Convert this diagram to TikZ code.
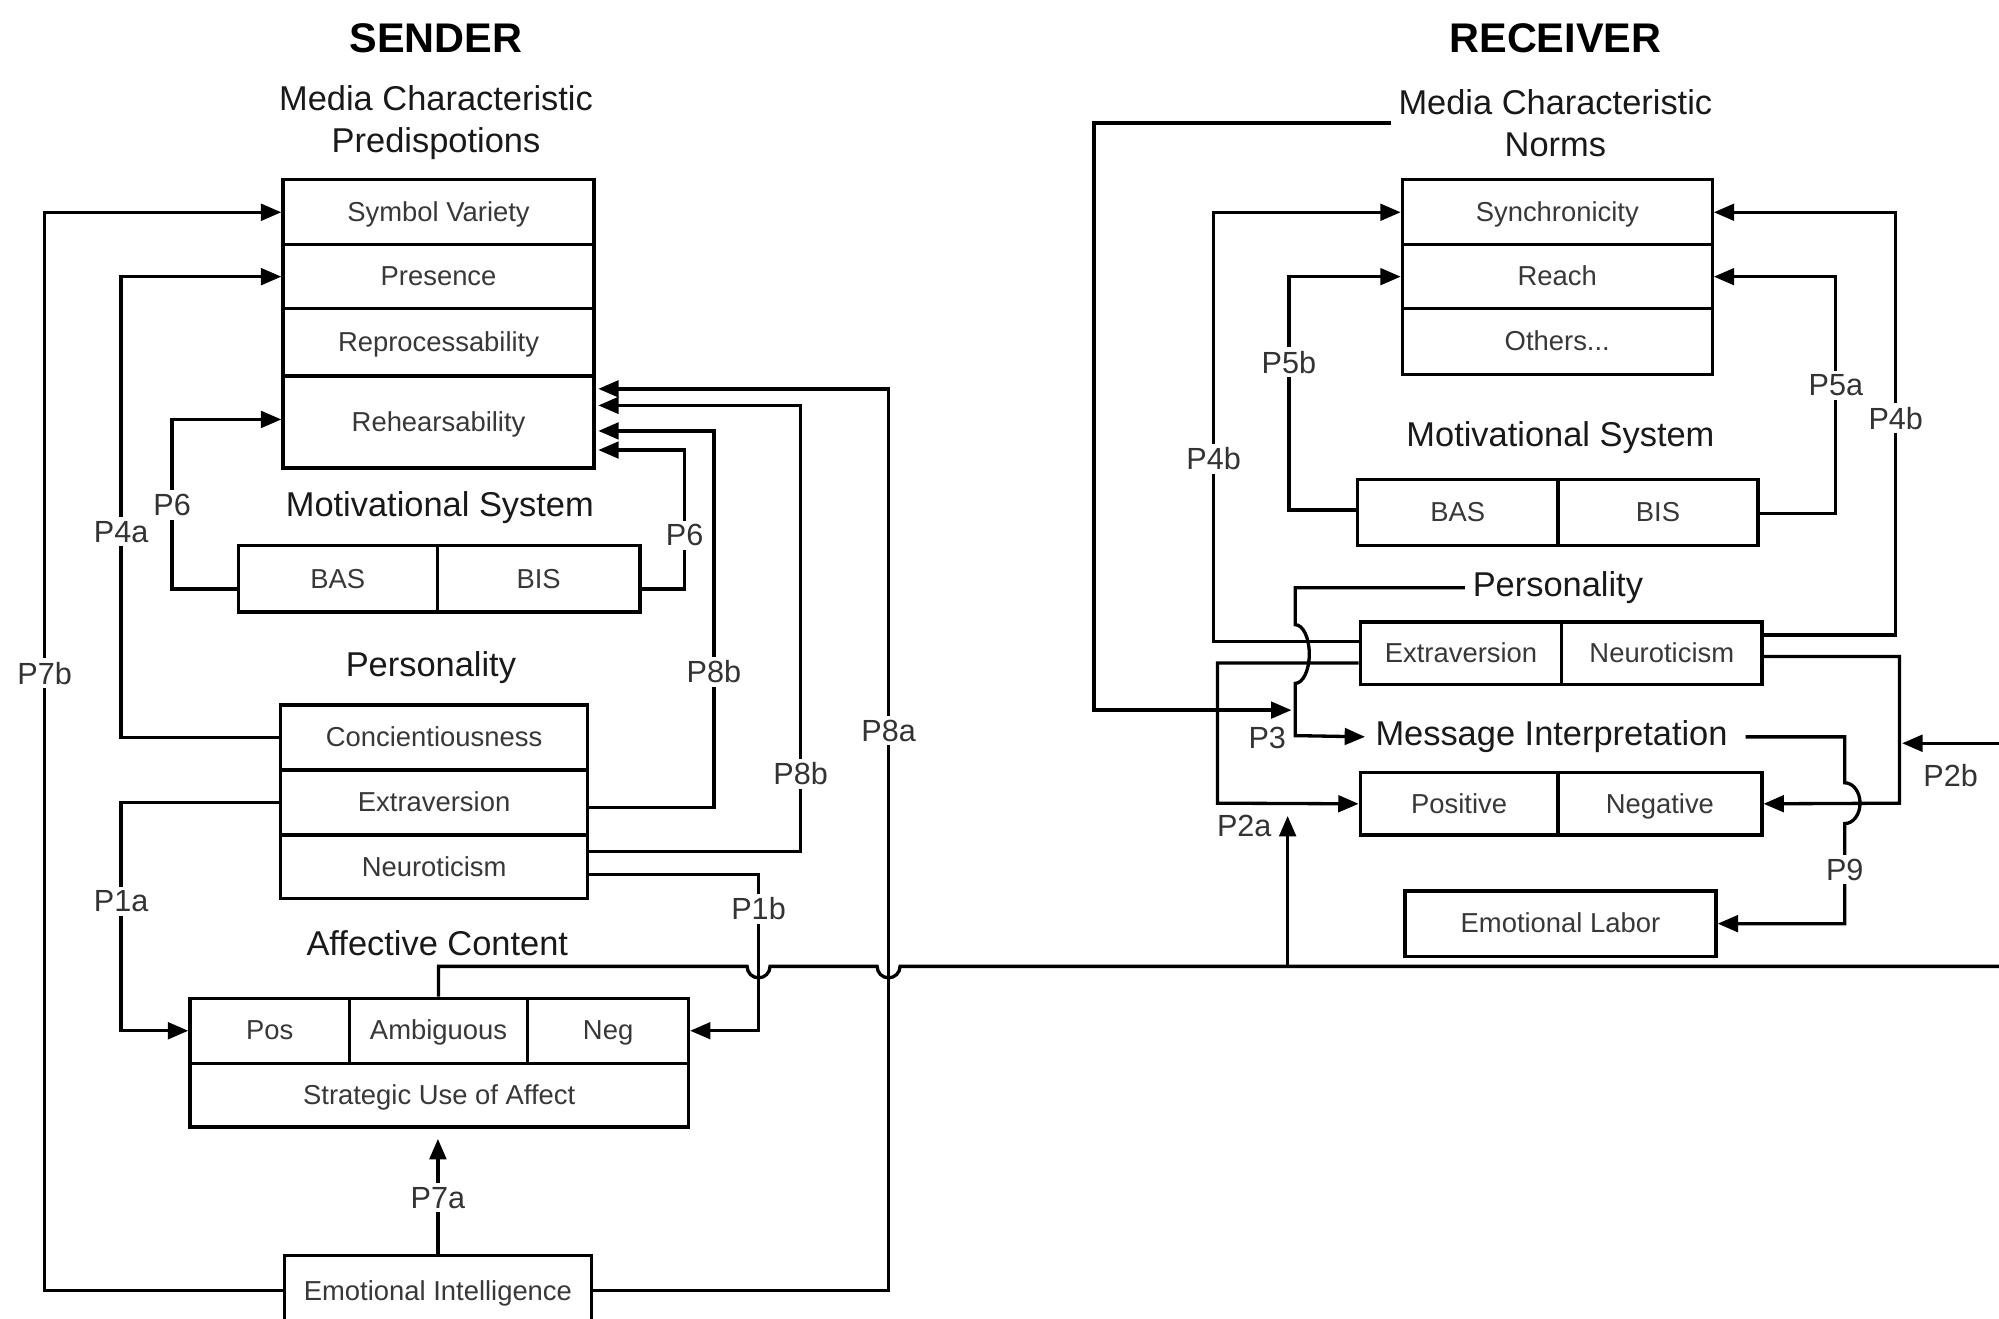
\documentclass[tikz,border=0pt]{standalone}
\usepackage{fontspec}
\setmainfont{Liberation Sans}
\usetikzlibrary{arrows.meta}
\begin{document}
\begin{tikzpicture}[x=1pt,y=-1pt,
  cell/.style={draw, line width=2.6pt, inner sep=0pt, text height=16pt, text depth=1.5pt, text=black!78, font=\fontsize{21.5}{24}\selectfont},
  head/.style={inner sep=6pt, font=\fontsize{27}{33}\selectfont, align=center, text=black!90},
  title/.style={font=\fontsize{32.5}{36}\selectfont\bfseries},
  lbl/.style={fill=white, inner sep=3pt, text=black!80, font=\fontsize{24}{26}\selectfont},
  conn/.style={line width=2.6pt},
  arr/.style={conn, -{Triangle[length=16pt,width=13pt]}},
]
\fill[white] (0,0) rectangle (1568,1034);
\useasboundingbox (0,0) rectangle (1568,1034);

% ---------------- SENDER ----------------
\node[title] (sender) at (342,30) {SENDER};
\node[head] (smedia) at (342,96.5) {Media Characteristic\\Predispotions};
\node[cell, minimum width=244pt, minimum height=51pt] (symvar) at (344,166.5) {Symbol Variety};
\node[cell, minimum width=244pt, minimum height=50pt] (presence) at (344,217) {Presence};
\node[cell, minimum width=244pt, minimum height=53pt] (reproc) at (344,268.5) {Reprocessability};
\node[cell, minimum width=244pt, minimum height=72pt] (rehe) at (344,331) {Rehearsability};

\node[head] (smot) at (345,398) {Motivational System};
\node[cell, minimum width=156pt, minimum height=52pt] (bas) at (265,454) {BAS};
\node[cell, minimum width=159pt, minimum height=52pt] (bis) at (422.5,454) {BIS};

\node[head] (spers) at (338,524) {Personality};
\node[cell, minimum width=241pt, minimum height=51pt] (consc) at (340.5,578.5) {Concientiousness};
\node[cell, minimum width=241pt, minimum height=51pt] (extra) at (340.5,629.5) {Extraversion};
\node[cell, minimum width=241pt, minimum height=50pt] (neuro) at (340.5,680) {Neuroticism};

\node[head] (saff) at (343,740) {Affective Content};
\node[cell, minimum width=125pt, minimum height=51pt] (pos) at (211.5,808.5) {Pos};
\node[cell, minimum width=140pt, minimum height=51pt] (amb) at (344,808.5) {Ambiguous};
\node[cell, minimum width=126pt, minimum height=51pt] (neg) at (477,808.5) {Neg};
\node[cell, minimum width=391pt, minimum height=50pt] (strat) at (344.5,859) {Strategic Use of Affect};

\node[cell, minimum width=241pt, minimum height=55pt] (ei) at (343.5,1012.5) {Emotional Intelligence};

% sender connectors
\draw[arr] (ei.west) -| (35,528) node[lbl]{P7b} |- (symvar.west);
\draw[arr] (consc.west) -| (95,417) node[lbl]{P4a} |- (presence.west);
\draw[arr] ([yshift=-8pt]bas.west) -| (135,396) node[lbl]{P6} |- ([yshift=2pt]rehe.west);
\draw[arr, shorten >=2pt] ([yshift=-8pt]bis.east) -| (537,420) node[lbl]{P6} |- ([yshift=-22pt]rehe.east);
\draw[arr, shorten >=2pt] ([yshift=-4pt]extra.east) -| (560,527) node[lbl]{P8b} |- ([yshift=-7pt]rehe.east);
\draw[arr, shorten >=2pt] ([yshift=12pt]neuro.east) -| (628,607) node[lbl]{P8b} |- ([yshift=13pt]rehe.east);
\draw[arr, shorten >=2pt] (ei.east) -| (697,573) node[lbl]{P8a} |- ([yshift=26pt]rehe.east);
\draw[arr] ([yshift=-6pt]neuro.east) -| (595,713) node[lbl]{P1b} |- (neg.east);
\draw[arr] (extra.west) -| (95,707) node[lbl]{P1a} |- (pos.west);
\draw[arr, shorten >=8pt] (ei.north) -- node[lbl, pos=0.45]{P7a} (ei.north |- strat.south);

% long line from Ambiguous to receiver
\draw[conn] (amb.north) |- (586,758) arc[start angle=180, end angle=360, radius=9pt]
  -- (688,758) arc[start angle=180, end angle=360, radius=9pt] -- (1590,758);

% ---------------- RECEIVER ----------------
\node[title] (receiver) at (1220,30) {RECEIVER};
\node[head] (rmedia) at (1220,96.5) {Media Characteristic\\Norms};
\node[cell, minimum width=243pt, minimum height=51pt] (sync) at (1221.5,166.5) {Synchronicity};
\node[cell, minimum width=243pt, minimum height=50pt] (reach) at (1221.5,217) {Reach};
\node[cell, minimum width=243pt, minimum height=52pt] (others) at (1221.5,268) {Others...};

\node[head] (rmot) at (1224,343) {Motivational System};
\node[cell, minimum width=157pt, minimum height=52pt] (rbas) at (1143.5,402) {BAS};
\node[cell, minimum width=157pt, minimum height=52pt] (rbis) at (1300.5,402) {BIS};

\node[head] (rpers) at (1222,461) {Personality};
\node[cell, minimum width=158pt, minimum height=49pt] (rextra) at (1146,512.5) {Extraversion};
\node[cell, minimum width=157pt, minimum height=49pt] (rneuro) at (1303.5,512.5) {Neuroticism};

\node[head] (rmsg) at (1217,578) {Message Interpretation};
\node[cell, minimum width=155pt, minimum height=49pt] (rpos) at (1144.5,630.5) {Positive};
\node[cell, minimum width=160pt, minimum height=49pt] (rneg) at (1302,630.5) {Negative};

\node[cell, minimum width=244pt, minimum height=51pt] (elabor) at (1224,724.5) {Emotional Labor};

\coordinate (p3join) at (1016,557);
\coordinate (p2bjoin) at (1490,583);
\coordinate (p2afoot) at (1010,758);
\coordinate (p2atop) at (1010,640);

% receiver connectors
\draw[arr] ([yshift=9.5pt]rextra.west) -| (952,360) node[lbl]{P4b} |- (sync.west);
\draw[arr] ([yshift=2pt]rbas.west) -| (1011,284) node[lbl]{P5b} |- (reach.west);
\draw[arr] ([yshift=-1pt]rbis.east) -| (1440,302) node[lbl]{P5a} |- (reach.east);
\draw[arr] ([yshift=14.5pt]rneuro.east) -| (1487,328) node[lbl]{P4b} |- (sync.east);
\draw[arr] ([yshift=-7.5pt]rextra.west) -| (955,630) -- (rpos.west);
\draw[arr] ([yshift=-2.5pt]rneuro.east) -| (1490,630) -- (rneg.east);
\draw[arr, shorten >=2pt] (1590,583) -- (p2bjoin);
\node[lbl, fill=none] (p2blab) at (1530,608) {P2b};
\draw[arr] (p2afoot) -- (p2atop);
\node[lbl, fill=none] (p2alab) at (976,648) {P2a};

\draw[arr, shorten >=3pt] (rmedia.west) -| (858,557) -- (p3join);
\draw[arr, shorten >=2pt] (rpers.west) -- (1016,461) -- (1016,490)
  arc[start angle=90, end angle=-90, x radius=11pt, y radius=23pt]
  -- (1016,577) -- (rmsg.west);
\node[lbl, fill=none] (p3lab) at (994,579) {P3};

\draw[arr] ([xshift=8pt]rmsg.east) -| (1447,614)
  arc[start angle=90, end angle=-90, x radius=12pt, y radius=16pt]
  -- (1447,682) node[lbl]{P9} |- (elabor.east);
\end{tikzpicture}
\end{document}
